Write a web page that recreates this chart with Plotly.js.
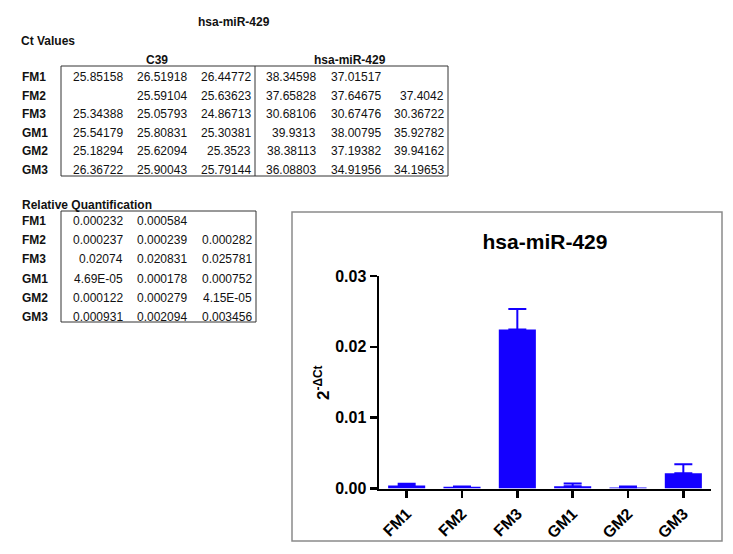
<!DOCTYPE html>
<html>
<head>
<meta charset="utf-8">
<script src="https://cdn.plot.ly/plotly-3.0.1.min.js"></script>
<style>
  html, body { margin: 0; padding: 0; background: #fff; }
  #grafico { width: 733px; height: 554px; }
</style>
</head>
<body>
<div id="grafico"></div>
<script>
/* ===== dados ===== */
const amostras = ["FM1", "FM2", "FM3", "GM1", "GM2", "GM3"];

// Ct values (strings keep the original formatting, "" = empty cell)
const ctC39 = [
  ["25.85158", "26.51918", "26.44772"],
  ["", "25.59104", "25.63623"],
  ["25.34388", "25.05793", "24.86713"],
  ["25.54179", "25.80831", "25.30381"],
  ["25.18294", "25.62094", "25.3523"],
  ["26.36722", "25.90043", "25.79144"],
];
const ctMir = [
  ["38.34598", "37.01517", ""],
  ["37.65828", "37.64675", "37.4042"],
  ["30.68106", "30.67476", "30.36722"],
  ["39.9313", "38.00795", "35.92782"],
  ["38.38113", "37.19382", "39.94162"],
  ["36.08803", "34.91956", "34.19653"],
];
const quantRelativa = [
  ["0.000232", "0.000584", ""],
  ["0.000237", "0.000239", "0.000282"],
  ["0.02074", "0.020831", "0.025781"],
  ["4.69E-05", "0.000178", "0.000752"],
  ["0.000122", "0.000279", "4.15E-05"],
  ["0.000931", "0.002094", "0.003456"],
];

// bar chart: mean and SD of 2^-dCt per sample
const media = [0.000408, 0.000253, 0.022451, 0.000326, 0.000148, 0.00216];
const desvio = [0.000249, 0.000025, 0.002884, 0.000375, 0.000121, 0.001264];
const desvioAbaixo = [0, 0, 0, 0, 0, 0];

/* ===== helpers (pixel -> paper) ===== */
const W = 733, H = 554;
const px = (x) => x / W;
const py = (y) => 1 - y / H;

const fonte = "Liberation Sans, Arial, sans-serif";
const anotacoes = [];
const formas = [];

function texto(t, x, y, opts = {}) {
  anotacoes.push({
    text: t,
    x: px(x), y: py(y), xref: "paper", yref: "paper",
    xanchor: opts.anchor || "left", yanchor: "middle",
    showarrow: false,
    font: { family: fonte, size: opts.size || 12, color: "#111", weight: opts.bold ? "bold" : "normal" },
  });
}

function caixa(x0, y0, x1, y1, cor, largura) {
  formas.push({
    type: "rect", xref: "paper", yref: "paper",
    x0: px(x0), x1: px(x1), y0: py(y0), y1: py(y1),
    line: { color: cor, width: largura },
  });
}

/* ===== tabela Ct ===== */
texto("hsa-miR-429", 234, 22, { anchor: "center", bold: true });
texto("Ct Values", 19, 41, { bold: true });
texto("C39", 157, 60, { anchor: "center", bold: true });
texto("hsa-miR-429", 350, 60, { anchor: "center", bold: true });

const colunasCt = [125, 189, 253, 318, 383, 446];
amostras.forEach((a, i) => {
  const y = 77 + 18.5 * i;
  texto(a, 20, y, { bold: true });
  const linha = ctC39[i].concat(ctMir[i]);
  linha.forEach((v, j) => {
    if (v !== "") texto(v, colunasCt[j], y, { anchor: "right" });
  });
});
caixa(61, 66, 448, 176, "#333", 1);
formas.push({
  type: "line", xref: "paper", yref: "paper",
  x0: px(255), x1: px(255), y0: py(66), y1: py(176),
  line: { color: "#333", width: 1 },
});

/* ===== tabela Relative Quantification ===== */
texto("Relative Quantification", 20, 205, { bold: true });
const colunasRq = [125, 189, 254];
amostras.forEach((a, i) => {
  const y = 221 + 19.2 * i;
  texto(a, 20, y, { bold: true });
  quantRelativa[i].forEach((v, j) => {
    if (v !== "") texto(v, colunasRq[j], y, { anchor: "right" });
  });
});
caixa(61, 211, 256, 322, "#333", 1);

/* ===== grafico ===== */
caixa(292, 212, 722, 541, "#8a8a8a", 1.5);
anotacoes.push({
  text: "2<sup>-ΔCt</sup>",
  x: px(322), y: py(383), xref: "paper", yref: "paper",
  xanchor: "center", yanchor: "middle", textangle: -90, showarrow: false,
  font: { family: fonte, size: 17, color: "#000", weight: "bold" },
});

const azul = "rgb(20,0,255)";

Plotly.newPlot(
  "grafico",
  [
    {
      type: "bar",
      x: amostras,
      y: media,
      marker: { color: azul, line: { width: 0 } },
      error_y: {
        type: "data",
        symmetric: false,
        array: desvio,
        arrayminus: desvioAbaixo,
        color: azul,
        thickness: 2,
        width: 9,
      },
    },
  ],
  {
    width: W,
    height: H,
    autosize: false,
    margin: { l: 0, r: 0, t: 0, b: 0 },
    paper_bgcolor: "#fff",
    plot_bgcolor: "#fff",
    showlegend: false,
    bargap: 0.33,
    title: {
      text: "hsa-miR-429",
      x: px(545), y: py(242), xanchor: "center", yanchor: "middle",
      font: { family: fonte, size: 21, color: "#000", weight: "bold" },
    },
    xaxis: {
      domain: [px(379), px(711)],
      range: [-0.5, 5.5],
      showline: true, linecolor: "#000", linewidth: 2.5,
      ticks: "outside", ticklen: 7, tickwidth: 2.5, tickcolor: "#000",
      tickangle: -45,
      tickfont: { family: fonte, size: 16, color: "#000", weight: "bold" },
      showgrid: false, zeroline: false, fixedrange: true,
    },
    yaxis: {
      domain: [py(488.5), py(276)],
      range: [0, 0.03],
      dtick: 0.01, tickformat: ".2f",
      showline: true, linecolor: "#000", linewidth: 2.5,
      ticks: "outside", ticklen: 7, tickwidth: 2.5, tickcolor: "#000",
      tickfont: { family: fonte, size: 16, color: "#000", weight: "bold" },
      showgrid: false, zeroline: false, fixedrange: true,
    },
    annotations: anotacoes,
    shapes: formas,
  },
  { displayModeBar: false, staticPlot: true },
);
</script>
</body>
</html>
